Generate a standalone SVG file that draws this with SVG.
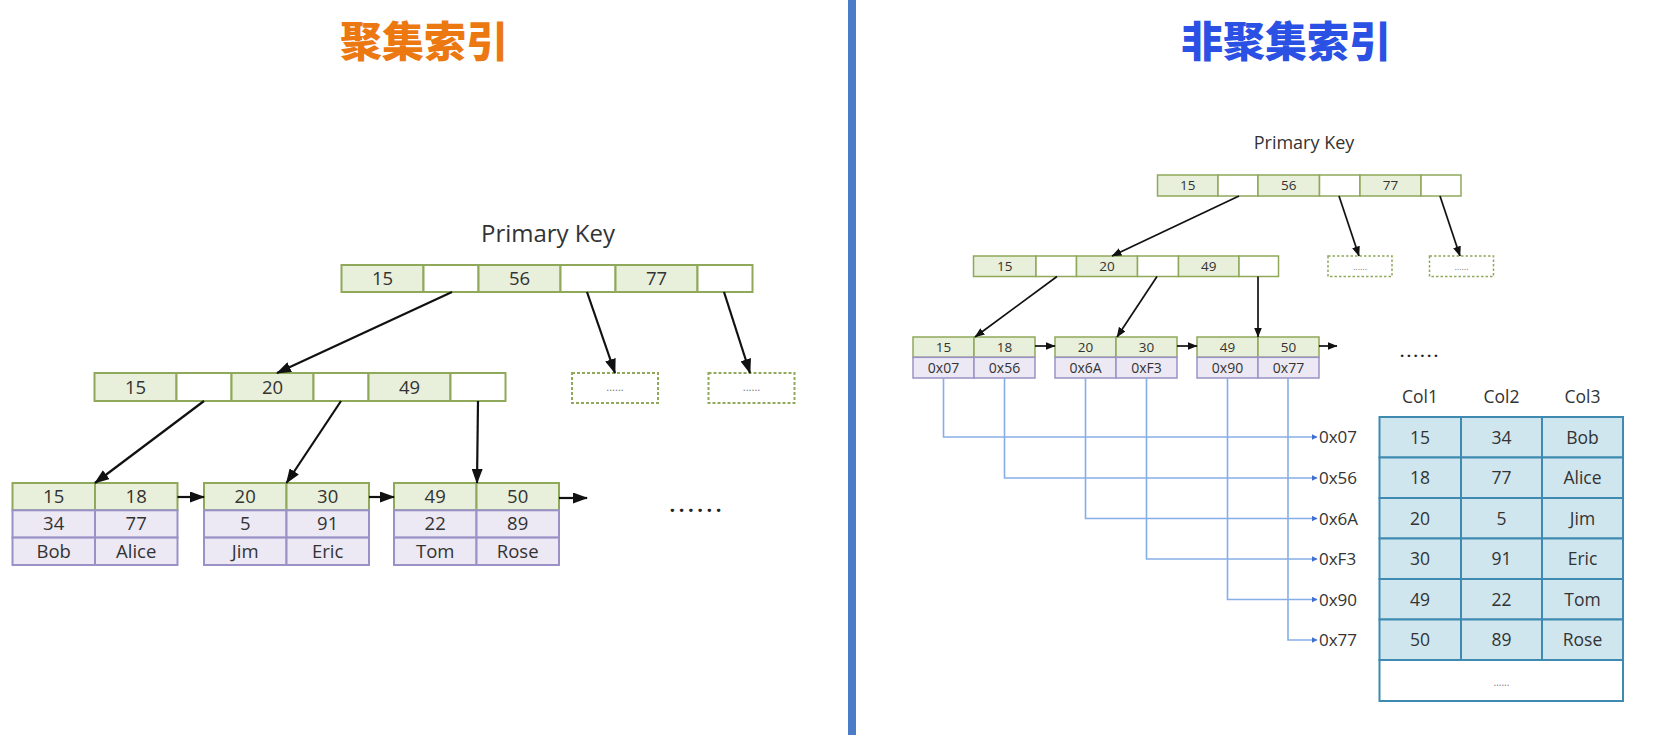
<svg xmlns="http://www.w3.org/2000/svg" width="1658" height="735" viewBox="0 0 1658 735">
<defs>
<style>
.k{fill:#e8efda;stroke:#8fa85a;stroke-width:2}
.p{fill:#ffffff;stroke:#8fa85a;stroke-width:2}
.kr{fill:#e8efda;stroke:#8fa85a;stroke-width:1.5}
.pr{fill:#ffffff;stroke:#8fa85a;stroke-width:1.5}
.v{fill:#ece8f4;stroke:#9a92c6;stroke-width:2}
.vr{fill:#ece8f4;stroke:#9a92c6;stroke-width:1.5}
.d{fill:#ffffff;stroke:#8fa85a;stroke-width:2;stroke-dasharray:3 2}
.dr{fill:#ffffff;stroke:#8fa85a;stroke-width:1.5;stroke-dasharray:2.5 2}
.tc{fill:#cfe6ef;stroke:#3f8ab0;stroke-width:2}
.tw{fill:#ffffff;stroke:#3f8ab0;stroke-width:2}
text{font-family:"Open Sans","Noto Sans","Liberation Sans",sans-serif;fill:#333333;text-anchor:middle}
.t18{font-size:18.5px}
.t13{font-size:13.5px}
.t14{font-size:14px}
.t17{font-size:17.5px}
.hx{font-size:17px;text-anchor:start}
.dot{font-size:11px;fill:#777777}
.title{font-family:"Noto Sans CJK SC","Noto Sans CJK JP",sans-serif;font-size:42px;font-weight:900}
.a{stroke:#111111;stroke-width:2.2;fill:none}
.ar{stroke:#111111;stroke-width:1.7;fill:none}
.b{stroke:#86aee6;stroke-width:1.6;fill:none}
</style>
<marker id="ah" viewBox="0 0 15 11" refX="14" refY="5.5" markerWidth="15" markerHeight="11" markerUnits="userSpaceOnUse" orient="auto">
<path d="M0,0 L15,5.5 L0,11 Z" fill="#111111"/>
</marker>
<marker id="ahs" viewBox="0 0 10 8" refX="9.5" refY="4" markerWidth="10" markerHeight="8" markerUnits="userSpaceOnUse" orient="auto">
<path d="M0,0 L10,4 L0,8 Z" fill="#111111"/>
</marker>
<marker id="ahb" viewBox="0 0 6 6" refX="5.5" refY="3" markerWidth="6" markerHeight="6" markerUnits="userSpaceOnUse" orient="auto">
<path d="M0,0 L6,3 L0,6 Z" fill="#3f6fd0"/>
</marker>
</defs>
<rect x="0" y="0" width="1658" height="735" fill="#ffffff"/>

<!-- divider -->
<rect x="848" y="0" width="8" height="735" fill="#4a7cc7"/>

<!-- titles -->
<text class="title" x="424" y="57" style="fill:#ec7812">聚集索引</text>
<text class="title" x="1286" y="57" style="fill:#2b50e4">非聚集索引</text>

<!-- ============ LEFT: clustered ============ -->
<text x="548" y="242" style="font-size:24px">Primary Key</text>

<g id="L-root">
<rect class="k" x="341.5" y="265" width="82" height="27"/>
<rect class="p" x="423.5" y="265" width="55" height="27"/>
<rect class="k" x="478.5" y="265" width="82" height="27"/>
<rect class="p" x="560.5" y="265" width="55" height="27"/>
<rect class="k" x="615.5" y="265" width="82" height="27"/>
<rect class="p" x="697.5" y="265" width="55" height="27"/>
<text class="t18" x="382.5" y="285">15</text>
<text class="t18" x="519.5" y="285">56</text>
<text class="t18" x="656.5" y="285">77</text>
</g>

<g id="L-mid">
<rect class="k" x="94.5" y="373" width="82" height="28"/>
<rect class="p" x="176.5" y="373" width="55" height="28"/>
<rect class="k" x="231.5" y="373" width="82" height="28"/>
<rect class="p" x="313.5" y="373" width="55" height="28"/>
<rect class="k" x="368.5" y="373" width="82" height="28"/>
<rect class="p" x="450.5" y="373" width="55" height="28"/>
<text class="t18" x="135.5" y="393.5">15</text>
<text class="t18" x="272.5" y="393.5">20</text>
<text class="t18" x="409.5" y="393.5">49</text>
</g>

<g id="L-more1">
<rect class="d" x="572" y="373" width="86" height="30"/>
<text class="dot" x="615" y="391">......</text>
</g>
<g id="L-more2">
<rect class="d" x="708.5" y="373" width="86" height="30"/>
<text class="dot" x="751.5" y="391">......</text>
</g>

<g id="L-leaf1">
<rect class="k" x="12.5" y="483" width="82.5" height="27.3"/>
<rect class="k" x="95" y="483" width="82.5" height="27.3"/>
<rect class="v" x="12.5" y="510.3" width="82.5" height="27.3"/>
<rect class="v" x="95" y="510.3" width="82.5" height="27.3"/>
<rect class="v" x="12.5" y="537.6" width="82.5" height="27.4"/>
<rect class="v" x="95" y="537.6" width="82.5" height="27.4"/>
<text class="t18" x="53.7" y="503">15</text>
<text class="t18" x="136.2" y="503">18</text>
<text class="t18" x="53.7" y="530.3">34</text>
<text class="t18" x="136.2" y="530.3">77</text>
<text class="t18" x="53.7" y="557.5">Bob</text>
<text class="t18" x="136.2" y="557.5">Alice</text>
</g>
<g id="L-leaf2">
<rect class="k" x="204" y="483" width="82.5" height="27.3"/>
<rect class="k" x="286.5" y="483" width="82.5" height="27.3"/>
<rect class="v" x="204" y="510.3" width="82.5" height="27.3"/>
<rect class="v" x="286.5" y="510.3" width="82.5" height="27.3"/>
<rect class="v" x="204" y="537.6" width="82.5" height="27.4"/>
<rect class="v" x="286.5" y="537.6" width="82.5" height="27.4"/>
<text class="t18" x="245.2" y="503">20</text>
<text class="t18" x="327.7" y="503">30</text>
<text class="t18" x="245.2" y="530.3">5</text>
<text class="t18" x="327.7" y="530.3">91</text>
<text class="t18" x="245.2" y="557.5">Jim</text>
<text class="t18" x="327.7" y="557.5">Eric</text>
</g>
<g id="L-leaf3">
<rect class="k" x="394" y="483" width="82.5" height="27.3"/>
<rect class="k" x="476.5" y="483" width="82.5" height="27.3"/>
<rect class="v" x="394" y="510.3" width="82.5" height="27.3"/>
<rect class="v" x="476.5" y="510.3" width="82.5" height="27.3"/>
<rect class="v" x="394" y="537.6" width="82.5" height="27.4"/>
<rect class="v" x="476.5" y="537.6" width="82.5" height="27.4"/>
<text class="t18" x="435.2" y="503">49</text>
<text class="t18" x="517.7" y="503">50</text>
<text class="t18" x="435.2" y="530.3">22</text>
<text class="t18" x="517.7" y="530.3">89</text>
<text class="t18" x="435.2" y="557.5">Tom</text>
<text class="t18" x="517.7" y="557.5">Rose</text>
</g>
<g id="L-ellipsis">
<text x="695.5" y="512" style="font-size:20px;font-weight:bold;fill:#222222" textLength="52" lengthAdjust="spacing">......</text>
</g>

<!-- ============ RIGHT: non-clustered ============ -->
<text x="1304" y="149" style="font-size:18px">Primary Key</text>

<g id="R-root">
<rect class="kr" x="1157.5" y="175" width="60.5" height="21"/>
<rect class="pr" x="1218" y="175" width="40" height="21"/>
<rect class="kr" x="1258" y="175" width="61.5" height="21"/>
<rect class="pr" x="1319.5" y="175" width="40.5" height="21"/>
<rect class="kr" x="1360" y="175" width="61" height="21"/>
<rect class="pr" x="1421" y="175" width="40" height="21"/>
<text class="t13" x="1187.7" y="190.3">15</text>
<text class="t13" x="1288.7" y="190.3">56</text>
<text class="t13" x="1390.5" y="190.3">77</text>
</g>

<g id="R-mid">
<rect class="kr" x="973.5" y="256" width="62.5" height="20.5"/>
<rect class="pr" x="1036" y="256" width="40.5" height="20.5"/>
<rect class="kr" x="1076.5" y="256" width="61" height="20.5"/>
<rect class="pr" x="1137.5" y="256" width="41" height="20.5"/>
<rect class="kr" x="1178.5" y="256" width="60.5" height="20.5"/>
<rect class="pr" x="1239" y="256" width="39.5" height="20.5"/>
<text class="t13" x="1004.7" y="271">15</text>
<text class="t13" x="1107" y="271">20</text>
<text class="t13" x="1208.7" y="271">49</text>
</g>

<g id="R-more1">
<rect class="dr" x="1328" y="256" width="64" height="20.5"/>
<text class="dot" x="1360" y="269.5" style="font-size:9px">......</text>
</g>
<g id="R-more2">
<rect class="dr" x="1429.5" y="256" width="64" height="20.5"/>
<text class="dot" x="1461.5" y="269.5" style="font-size:9px">......</text>
</g>

<g id="R-leaf1">
<rect class="kr" x="913" y="337" width="61" height="20.3"/>
<rect class="kr" x="974" y="337" width="61" height="20.3"/>
<rect class="vr" x="913" y="357.3" width="61" height="20.7"/>
<rect class="vr" x="974" y="357.3" width="61" height="20.7"/>
<text class="t13" x="943.5" y="352">15</text>
<text class="t13" x="1004.5" y="352">18</text>
<text class="t14" x="943.5" y="372.5">0x07</text>
<text class="t14" x="1004.5" y="372.5">0x56</text>
</g>
<g id="R-leaf2">
<rect class="kr" x="1055" y="337" width="61" height="20.3"/>
<rect class="kr" x="1116" y="337" width="61" height="20.3"/>
<rect class="vr" x="1055" y="357.3" width="61" height="20.7"/>
<rect class="vr" x="1116" y="357.3" width="61" height="20.7"/>
<text class="t13" x="1085.5" y="352">20</text>
<text class="t13" x="1146.5" y="352">30</text>
<text class="t14" x="1085.5" y="372.5">0x6A</text>
<text class="t14" x="1146.5" y="372.5">0xF3</text>
</g>
<g id="R-leaf3">
<rect class="kr" x="1197" y="337" width="61" height="20.3"/>
<rect class="kr" x="1258" y="337" width="61" height="20.3"/>
<rect class="vr" x="1197" y="357.3" width="61" height="20.7"/>
<rect class="vr" x="1258" y="357.3" width="61" height="20.7"/>
<text class="t13" x="1227.5" y="352">49</text>
<text class="t13" x="1288.5" y="352">50</text>
<text class="t14" x="1227.5" y="372.5">0x90</text>
<text class="t14" x="1288.5" y="372.5">0x77</text>
</g>
<g id="R-ellipsis">
<text x="1419" y="357" style="font-size:15px;font-weight:bold;fill:#222222" textLength="38" lengthAdjust="spacing">......</text>
</g>

<g id="R-addr">
<text class="hx" x="1319" y="443">0x07</text>
<text class="hx" x="1319" y="484">0x56</text>
<text class="hx" x="1319" y="524.5">0x6A</text>
<text class="hx" x="1319" y="565">0xF3</text>
<text class="hx" x="1319" y="605.5">0x90</text>
<text class="hx" x="1319" y="646">0x77</text>
</g>

<g id="R-table">
<text class="t17" x="1420" y="403">Col1</text>
<text class="t17" x="1501.5" y="403">Col2</text>
<text class="t17" x="1582.5" y="403">Col3</text>
<rect class="tc" x="1379.5" y="417" width="81.5" height="40.5"/>
<rect class="tc" x="1461" y="417" width="81" height="40.5"/>
<rect class="tc" x="1542" y="417" width="81" height="40.5"/>
<rect class="tc" x="1379.5" y="457.5" width="81.5" height="40.5"/>
<rect class="tc" x="1461" y="457.5" width="81" height="40.5"/>
<rect class="tc" x="1542" y="457.5" width="81" height="40.5"/>
<rect class="tc" x="1379.5" y="498" width="81.5" height="40.5"/>
<rect class="tc" x="1461" y="498" width="81" height="40.5"/>
<rect class="tc" x="1542" y="498" width="81" height="40.5"/>
<rect class="tc" x="1379.5" y="538.5" width="81.5" height="40.5"/>
<rect class="tc" x="1461" y="538.5" width="81" height="40.5"/>
<rect class="tc" x="1542" y="538.5" width="81" height="40.5"/>
<rect class="tc" x="1379.5" y="579" width="81.5" height="40.5"/>
<rect class="tc" x="1461" y="579" width="81" height="40.5"/>
<rect class="tc" x="1542" y="579" width="81" height="40.5"/>
<rect class="tc" x="1379.5" y="619.5" width="81.5" height="40.5"/>
<rect class="tc" x="1461" y="619.5" width="81" height="40.5"/>
<rect class="tc" x="1542" y="619.5" width="81" height="40.5"/>
<rect class="tw" x="1379.5" y="660" width="243.5" height="41"/>
<text class="t17" x="1420" y="443.5">15</text>
<text class="t17" x="1501.5" y="443.5">34</text>
<text class="t17" x="1582.5" y="443.5">Bob</text>
<text class="t17" x="1420" y="484">18</text>
<text class="t17" x="1501.5" y="484">77</text>
<text class="t17" x="1582.5" y="484">Alice</text>
<text class="t17" x="1420" y="524.5">20</text>
<text class="t17" x="1501.5" y="524.5">5</text>
<text class="t17" x="1582.5" y="524.5">Jim</text>
<text class="t17" x="1420" y="565">30</text>
<text class="t17" x="1501.5" y="565">91</text>
<text class="t17" x="1582.5" y="565">Eric</text>
<text class="t17" x="1420" y="605.5">49</text>
<text class="t17" x="1501.5" y="605.5">22</text>
<text class="t17" x="1582.5" y="605.5">Tom</text>
<text class="t17" x="1420" y="646">50</text>
<text class="t17" x="1501.5" y="646">89</text>
<text class="t17" x="1582.5" y="646">Rose</text>
<text class="dot" x="1501.5" y="686" style="font-size:10px">......</text>
</g>

<!-- ============ connectors ============ -->
<g id="connectors">
<path class="a" d="M452,292 L277,373" marker-end="url(#ah)"/>
<path class="a" d="M587,292 L615,373" marker-end="url(#ah)"/>
<path class="a" d="M724,292 L750,373" marker-end="url(#ah)"/>
<path class="a" d="M204,401 L95,483" marker-end="url(#ah)"/>
<path class="a" d="M341,401 L286.5,483" marker-end="url(#ah)"/>
<path class="a" d="M478,401 L477,483" marker-end="url(#ah)"/>
<path class="a" d="M177.5,497 L204,497" marker-end="url(#ah)"/>
<path class="a" d="M369,497 L394,497" marker-end="url(#ah)"/>
<path class="a" d="M559,498 L587,498" marker-end="url(#ah)"/>

<path class="ar" d="M1239,196 L1112,256" marker-end="url(#ahs)"/>
<path class="ar" d="M1339,196 L1359,256" marker-end="url(#ahs)"/>
<path class="ar" d="M1440,196 L1460,256" marker-end="url(#ahs)"/>
<path class="ar" d="M1057,276.5 L975,337" marker-end="url(#ahs)"/>
<path class="ar" d="M1157,276.5 L1117,337" marker-end="url(#ahs)"/>
<path class="ar" d="M1258,276.5 L1258,337" marker-end="url(#ahs)"/>
<path class="ar" d="M1035,346 L1055,346" marker-end="url(#ahs)"/>
<path class="ar" d="M1177,346 L1197,346" marker-end="url(#ahs)"/>
<path class="ar" d="M1319,346 L1337,346" marker-end="url(#ahs)"/>

<path class="b" d="M943.5,378 V437 H1317" marker-end="url(#ahb)"/>
<path class="b" d="M1004.5,378 V478 H1317" marker-end="url(#ahb)"/>
<path class="b" d="M1085.5,378 V518.5 H1317" marker-end="url(#ahb)"/>
<path class="b" d="M1146.5,378 V559 H1317" marker-end="url(#ahb)"/>
<path class="b" d="M1227.5,378 V599.5 H1317" marker-end="url(#ahb)"/>
<path class="b" d="M1288,378 V640 H1317" marker-end="url(#ahb)"/>
</g>
</svg>
